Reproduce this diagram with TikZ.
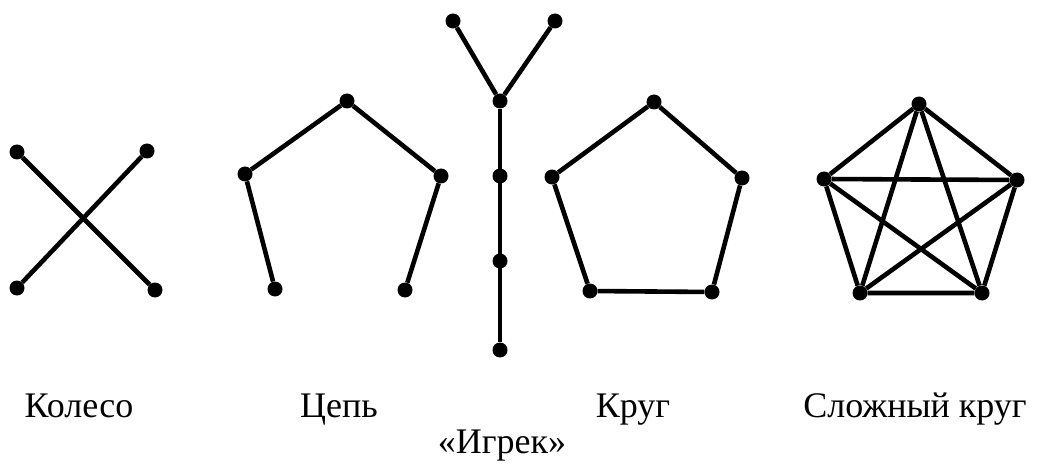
\documentclass[tikz,border=0pt]{standalone}
\usepackage{fontspec}
\setmainfont{Liberation Serif}
\usetikzlibrary{positioning}

\tikzset{
  dot/.style={circle,fill=black,inner sep=0pt,minimum size=15pt},
  edge/.style={line width=4.6pt},
  lbl/.style={anchor=base,font=\fontsize{36}{40}\selectfont}
}

\begin{document}
\begin{tikzpicture}[x=1pt,y=-1pt]
  \useasboundingbox (0,0) rectangle (1039,465);
  % Koleso
  \node[dot] (k1) at (17,152) {};
  \node[dot] (k2) at (147,151) {};
  \node[dot] (k3) at (17,288) {};
  \node[dot] (k4) at (155,290) {};
  \draw[edge] (k1) -- (k4);
  \draw[edge] (k2) -- (k3);
  \node[lbl] (lk) at (79,417) {Колесо};
  % Cep
  \node[dot] (c1) at (275,289) {};
  \node[dot] (c2) at (245,174) {};
  \node[dot] (c3) at (347,101) {};
  \node[dot] (c4) at (441,176) {};
  \node[dot] (c5) at (405,290) {};
  \draw[edge] (c1) -- (c2) -- (c3) -- (c4) -- (c5);
  \node[lbl] (lc) at (339,417) {Цепь};
  % Igrek
  \node[dot] (y1) at (453,21) {};
  \node[dot] (y2) at (555,21) {};
  \node[dot] (y3) at (500,101) {};
  \node[dot] (y4) at (500,176) {};
  \node[dot] (y5) at (500,261) {};
  \node[dot] (y6) at (500,350) {};
  \draw[edge] (y1) -- (y3) -- (y2);
  \draw[edge] (y3) -- (y6);
  \node[lbl] (ly) at (502,453) {«Игрек»};
  % Krug
  \node[dot] (r1) at (654,102) {};
  \node[dot] (r2) at (742,178) {};
  \node[dot] (r3) at (712,292) {};
  \node[dot] (r4) at (590,291) {};
  \node[dot] (r5) at (552,177) {};
  \draw[edge] (r1) -- (r2) -- (r3) -- (r4) -- (r5) -- (r1);
  \node[lbl] (lr) at (633,417) {Круг};
  % Slozhnyj krug
  \node[dot] (s1) at (919,104) {};
  \node[dot] (s2) at (1017,180) {};
  \node[dot] (s3) at (982,293) {};
  \node[dot] (s4) at (860,293) {};
  \node[dot] (s5) at (824,179) {};
  \draw[edge] (s1) -- (s2) -- (s3) -- (s4) -- (s5) -- (s1);
  \draw[edge] (s1) -- (s3) -- (s5) -- (s2) -- (s4) -- (s1);
  \node[lbl] (ls) at (915,417) {Сложный круг};
\end{tikzpicture}
\end{document}
